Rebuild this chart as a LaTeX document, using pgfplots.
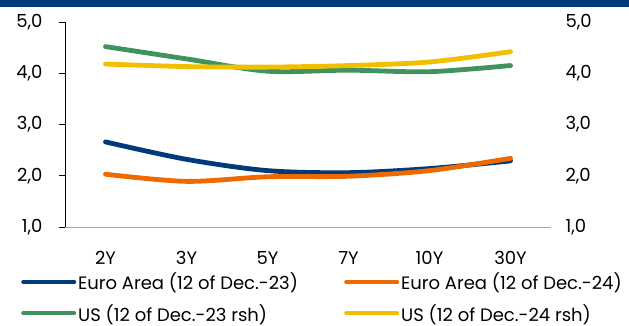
\documentclass[border=0pt]{standalone}
\usepackage{fontspec}
\setmainfont{Poppins}
\usepackage{pgfplots}
\pgfplotsset{compat=1.18}

\definecolor{navy}{RGB}{0,58,122}
\definecolor{eaorange}{RGB}{238,106,0}
\definecolor{usgreen}{RGB}{64,146,94}
\definecolor{usyellow}{RGB}{240,192,0}

\newcommand{\chartfont}{\fontsize{18}{21}\selectfont}

\pgfplotsset{
  curve/.style={smooth, line width=4.8pt, line cap=round, no markers},
  yieldaxis/.style={
    at={(65pt,99pt)}, anchor=south west,
    scale only axis, width=486pt, height=205pt,
    xmin=-0.5, xmax=5.5, ymin=1, ymax=5,
    ytick={1,2,3,4,5},
    /pgf/number format/.cd, fixed, fixed zerofill, precision=1, use comma, assume math mode=true,
    /pgfplots/.cd,
    tick label style={font=\chartfont},
  },
}

\begin{document}
\begin{tikzpicture}
\path (0pt,0pt) rectangle (629pt,326pt);
\fill[navy] (0pt,319pt) rectangle (629pt,326pt);

% Euro Area yields, left-hand scale
\begin{axis}[yieldaxis,
  axis x line*=bottom, axis y line*=left,
  x axis line style={-, draw=black!35, line width=0.8pt},
  y axis line style={-, draw=black, line width=0.9pt},
  xtick={0,...,5}, xticklabels={2Y,3Y,5Y,7Y,10Y,30Y},
  x tick style={draw=none},
  xticklabel style={anchor=base, yshift=-32pt},
  y tick style={draw=black, line width=0.9pt},
  tick align=outside, major tick length=6pt,
  yticklabel style={xshift=-13pt},
  legend columns=2,
  legend cell align=left,
  legend style={at={(-0.0905,-0.218)}, anchor=north west, draw=none, fill=none,
    font=\chartfont, row sep=11pt, inner sep=0pt,
    nodes={inner xsep=2pt, inner ysep=1pt}},
  legend image code/.code={\draw[#1, line width=4pt, line cap=round] (0pt,0pt) -- (51pt,0pt);},
]
\addplot[curve, navy] coordinates {(0,2.66) (1,2.32) (2,2.10) (3,2.06) (4,2.14) (5,2.29)};
\addlegendentry{\makebox[264pt][l]{Euro Area (12 of Dec.-23)}}
\addplot[curve, eaorange] coordinates {(0,2.03) (1,1.89) (2,1.98) (3,1.99) (4,2.10) (5,2.34)};
\addlegendentry{Euro Area (12 of Dec.-24)}
\addlegendimage{usgreen}
\addlegendentry{US (12 of Dec.-23 rsh)}
\addlegendimage{usyellow}
\addlegendentry{US (12 of Dec.-24 rsh)}
\end{axis}

% US yields, right-hand scale
\begin{axis}[yieldaxis,
  axis x line=none, axis y line*=right,
  y axis line style={draw=none},
  y tick style={draw=none},
  yticklabel style={xshift=11pt},
]
\addplot[curve, usgreen] coordinates {(0,4.52) (1,4.28) (2,4.04) (3,4.06) (4,4.03) (5,4.15)};
\addplot[curve, usyellow] coordinates {(0,4.18) (1,4.13) (2,4.12) (3,4.15) (4,4.22) (5,4.42)};
\end{axis}
\end{tikzpicture}
\end{document}
